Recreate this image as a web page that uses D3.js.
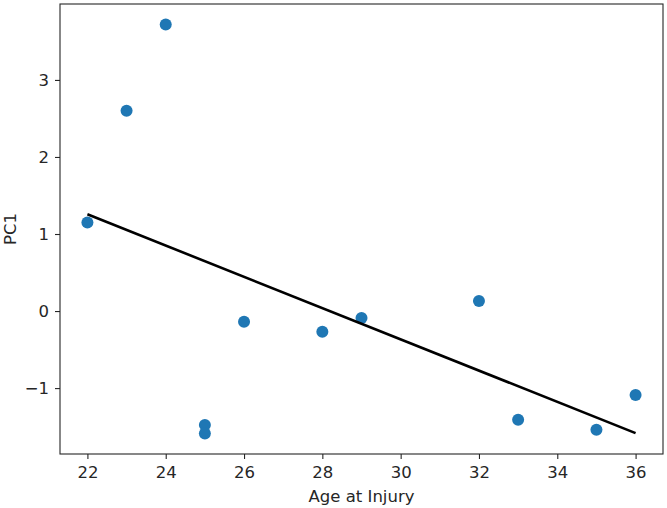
<!DOCTYPE html>
<html>
<head>
<meta charset="utf-8">
<script src="https://cdn.jsdelivr.net/npm/d3@7"></script>
<style>
  body { margin: 0; background: #fff; }
  text { font-family: "DejaVu Sans", sans-serif; fill: #262626; }
</style>
</head>
<body>
<svg id="chart" width="667" height="508"></svg>
<script>
// data
var ages = [22, 23, 24, 25, 25, 26, 28, 29, 32, 33, 35, 36];
var pc1  = [1.15, 2.60, 3.72, -1.48, -1.59, -0.14, -0.27, -0.09, 0.13, -1.41, -1.54, -1.09];
var fitX = [22, 36];
var fitY = [1.256, -1.585];
var xTicks = [22, 24, 26, 28, 30, 32, 34, 36];
var yTicks = [-1, 0, 1, 2, 3];

var margin = { left: 60, top: 4, right: 4, bottom: 54 };
var svg = d3.select("#chart");
var W = +svg.attr("width"), H = +svg.attr("height");
var w = W - margin.left - margin.right, h = H - margin.top - margin.bottom;
var fs = "16.5px";

// matplotlib-like 5% margins
var xPad = (d3.max(ages) - d3.min(ages)) * 0.05;
var yMin = Math.min(d3.min(pc1), d3.min(fitY)), yMax = Math.max(d3.max(pc1), d3.max(fitY));
var yPad = (yMax - yMin) * 0.05;

var x = d3.scaleLinear().domain([d3.min(ages) - xPad, d3.max(ages) + xPad]).range([0, w]);
var y = d3.scaleLinear().domain([yMin - yPad, yMax + yPad]).range([h, 0]);

var g = svg.append("g").attr("transform", "translate(" + margin.left + "," + margin.top + ")");

var xAxis = g.append("g").attr("transform", "translate(0," + h + ")")
    .call(d3.axisBottom(x).tickValues(xTicks).tickSize(5).tickPadding(7).tickFormat(d3.format("d")));
var yAxis = g.append("g")
    .call(d3.axisLeft(y).tickValues(yTicks).tickSize(5).tickPadding(6)
      .tickFormat(function(d){ return d < 0 ? "\u2212" + Math.abs(d) : d; }));

[xAxis, yAxis].forEach(function(a){
  a.attr("font-size", null).attr("font-family", null);
  a.select(".domain").remove();
  a.selectAll("line").attr("stroke", "#262626").attr("stroke-width", 1.1);
  a.selectAll("text").style("font-size", fs).style("fill", "#262626");
});

// frame
g.append("rect").attr("width", w).attr("height", h)
  .attr("fill", "none").attr("stroke", "#262626").attr("stroke-width", 1.1);

g.selectAll("circle.pt").data(ages).enter().append("circle")
  .attr("class", "pt")
  .attr("cx", function(d){ return x(d); })
  .attr("cy", function(d, i){ return y(pc1[i]); })
  .attr("r", 6)
  .attr("fill", "#1f77b4");

g.append("path")
  .datum(fitX.map(function(d, i){ return [d, fitY[i]]; }))
  .attr("d", d3.line().x(function(d){ return x(d[0]); }).y(function(d){ return y(d[1]); }))
  .attr("fill", "none").attr("stroke", "#000").attr("stroke-width", 2.6);

svg.append("text")
  .attr("x", margin.left + w / 2).attr("y", H - 6)
  .attr("text-anchor", "middle").style("font-size", fs)
  .text("Age at Injury");

svg.append("text")
  .attr("transform", "translate(16," + (margin.top + h / 2) + ") rotate(-90)")
  .attr("text-anchor", "middle").style("font-size", fs)
  .text("PC1");
</script>
</body>
</html>
